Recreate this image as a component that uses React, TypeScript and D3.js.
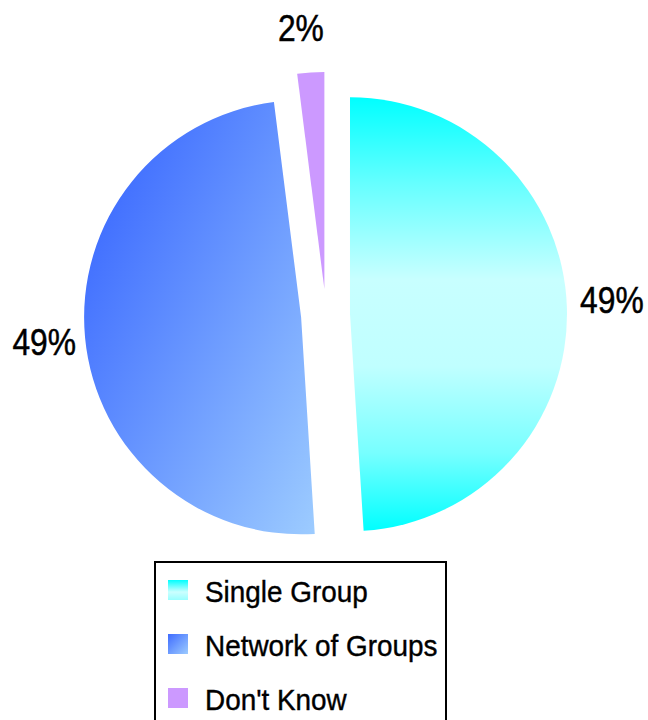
import React from 'react';
import * as d3 from 'd3';

// data
const categories = ['Single Group', 'Network of Groups', "Don't Know"];
const shares = [49, 49, 2];
const percentLabels = ['49%', '49%', '2%'];

const W = 648;
const H = 720;
const cx = 326;
const cy = 315;
const radius = 217;
const explode = [24, 25, 26];
const labelRadius = 262;
// small hand nudges so the labels sit where the original put them
const labelNudge: [number, number][] = [[0, -6], [4, 0], [-7, 0]];

const fills = ['url(#gradSingle)', 'url(#gradNetwork)', '#cc99ff'];
const swatchFills = ['url(#swSingle)', 'url(#swNetwork)', '#cc99ff'];

const font = '"Liberation Sans", Arial, sans-serif';

export default function App() {
  const pie = d3.pie<number>().sort(null).startAngle(0).endAngle(2 * Math.PI);
  const arcs = pie(shares);
  const arc = d3.arc<d3.PieArcDatum<number>>().innerRadius(0).outerRadius(radius);

  const legendY = d3.scaleBand<string>().domain(categories).range([565, 727]);

  return (
    <svg
      width={W}
      height={H}
      style={{ position: 'absolute', left: 0, top: 0, background: '#fff' }}
    >
      <defs>
        <linearGradient id="gradSingle" x1="0" y1="0" x2="0" y2="1">
          <stop offset="0" stopColor="#00ffff" />
          <stop offset="0.2" stopColor="#66ffff" />
          <stop offset="0.42" stopColor="#c8ffff" />
          <stop offset="0.62" stopColor="#c0ffff" />
          <stop offset="0.82" stopColor="#77ffff" />
          <stop offset="1" stopColor="#00ffff" />
        </linearGradient>
        {/* local coords of the exploded slice (origin = slice centre) */}
        <linearGradient id="gradNetwork" gradientUnits="userSpaceOnUse" x1="-200" y1="-96" x2="94" y2="45">
          <stop offset="0" stopColor="#4270ff" />
          <stop offset="1" stopColor="#9ccbff" />
        </linearGradient>
        <linearGradient id="swSingle" x1="0" y1="0" x2="0" y2="1">
          <stop offset="0" stopColor="#00ffff" />
          <stop offset="0.6" stopColor="#ccffff" />
          <stop offset="1" stopColor="#99ffff" />
        </linearGradient>
        <linearGradient id="swNetwork" x1="0" y1="0" x2="1" y2="1">
          <stop offset="0" stopColor="#3f6cff" />
          <stop offset="1" stopColor="#9ccbff" />
        </linearGradient>
      </defs>

      {arcs.map((a, i) => {
        const mid = (a.startAngle + a.endAngle) / 2;
        const ox = Math.sin(mid) * explode[i];
        const oy = -Math.cos(mid) * explode[i];
        const lx = ox + Math.sin(mid) * labelRadius + labelNudge[i][0];
        const ly = oy - Math.cos(mid) * labelRadius + labelNudge[i][1];
        return (
          <g key={categories[i]} transform={`translate(${cx},${cy})`}>
            <path d={arc(a) || ''} transform={`translate(${ox},${oy})`} fill={fills[i]} />
            <text
              transform={`translate(${lx},${ly + 13}) scale(0.86,1)`}
              textAnchor="middle"
              fontFamily={font}
              fontSize={37}
              fill="#000"
              stroke="#000"
              strokeWidth={0.5}
            >
              {percentLabels[i]}
            </text>
          </g>
        );
      })}

      <rect x={155} y={562} width={291} height={180} fill="#fff" stroke="#000" strokeWidth={2} />
      {categories.map((c, i) => {
        const y = legendY(c)!;
        return (
          <g key={c}>
            <rect x={168} y={y + 15} width={20} height={20} fill={swatchFills[i]} />
            <text
              transform={`translate(205,${y + 37}) scale(0.93,1)`}
              fontFamily={font}
              fontSize={30}
              fill="#000"
              stroke="#000"
              strokeWidth={0.4}
            >
              {c}
            </text>
          </g>
        );
      })}
    </svg>
  );
}
